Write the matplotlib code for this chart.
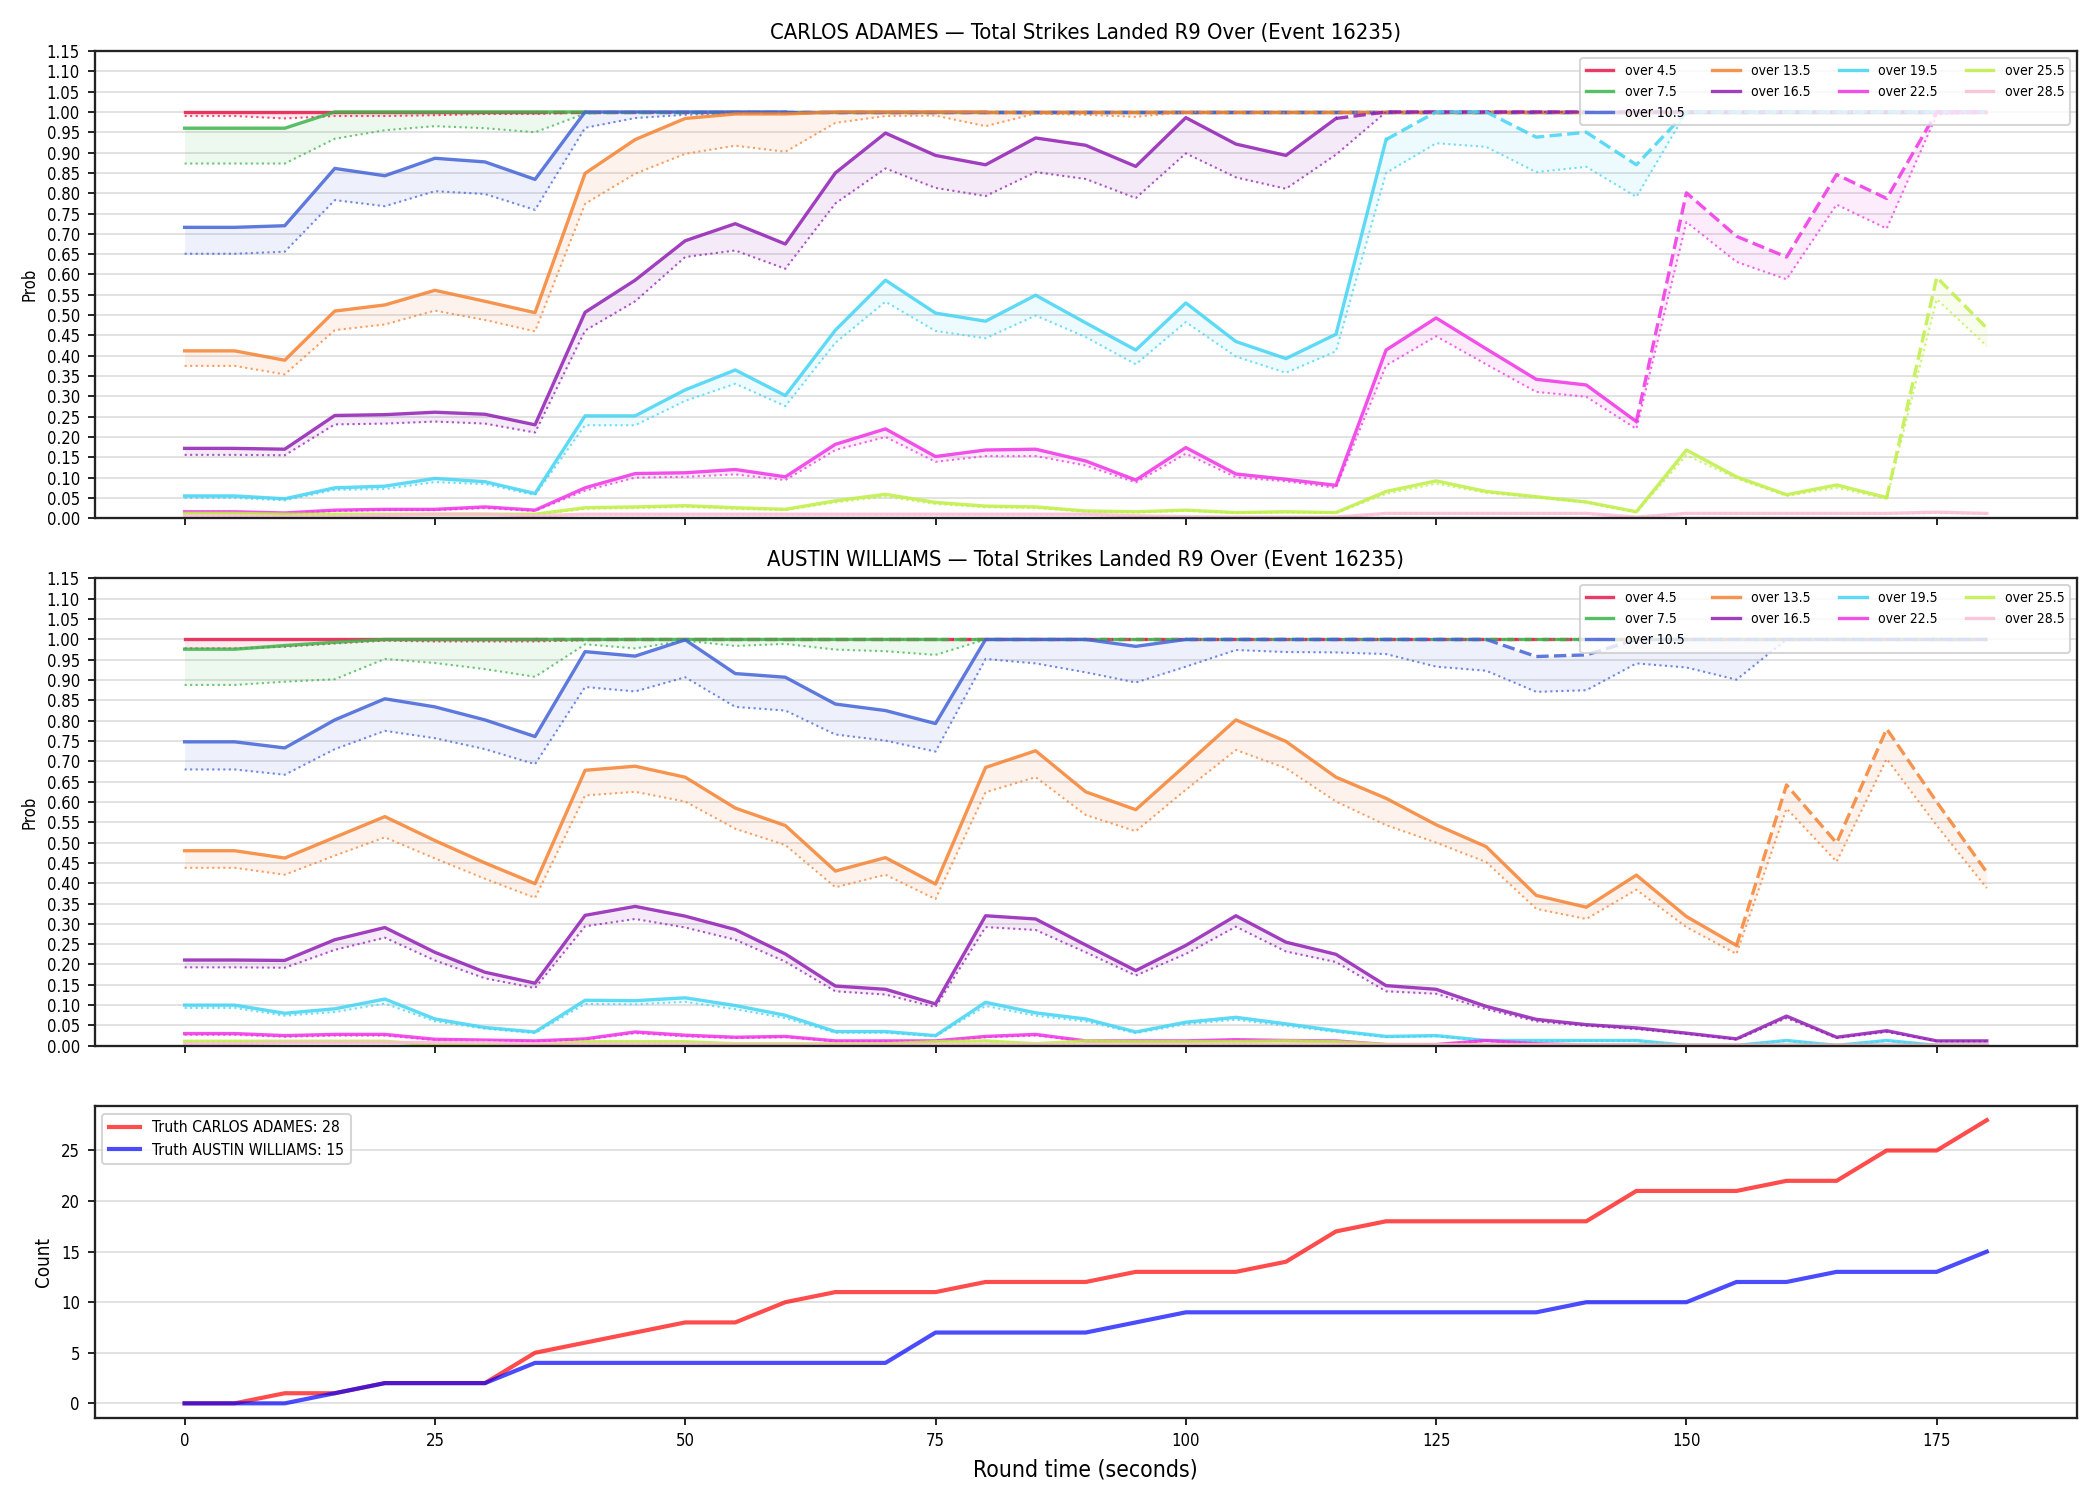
import numpy as np
import matplotlib
matplotlib.use("Agg")
import matplotlib.pyplot as plt

plt.rcParams['font.family'] = ['DejaVu Sans']
plt.rcParams['font.stretch'] = 'condensed'

# round time (s)
t = np.array(list(range(0, 185, 5)))

thresholds = [4.5, 7.5, 10.5, 13.5, 16.5, 19.5, 22.5, 25.5, 28.5]
colors = ['#e6194B', '#3cb44b', '#4363d8', '#f58231', '#911eb4',
          '#42d4f4', '#f032e6', '#bfef45', '#fabed4']

fighter_a = "CARLOS ADAMES"
fighter_b = "AUSTIN WILLIAMS"
event_id = 16235

"""truth counts"""
truth_a = [0, 0, 1, 1, 2, 2, 2, 5, 6, 7, 8, 8, 10, 11, 11, 11, 12, 12, 12, 13, 13, 13, 14, 17, 18,
           18, 18, 18, 18, 21, 21, 21, 22, 22, 25, 25, 28]
truth_b = [0, 0, 0, 1, 2, 2, 2, 4, 4, 4, 4, 4, 4, 4, 4, 7, 7, 7, 7, 8, 9, 9, 9, 9, 9,
           9, 9, 9, 10, 10, 10, 12, 12, 13, 13, 13, 15]

"""CARLOS ADAMES probs (main line) and lower dotted line"""
a_p45 = [1.0]*37
a_lo45 = [0.99, 0.99, 0.984, 0.99, 0.99, 0.992, 0.995, 0.995, 0.998] + [1.0]*28
a_p75 = [0.96, 0.96, 0.96] + [1.0]*34
a_lo75 = [0.873, 0.873, 0.873, 0.934, 0.955, 0.965, 0.96, 0.95, 0.996] + [1.0]*28
a_p105 = [0.716, 0.716, 0.72, 0.861, 0.843, 0.886, 0.877, 0.834] + [1.0]*29
a_lo105 = [0.651, 0.651, 0.656, 0.783, 0.768, 0.805, 0.798, 0.759, 0.961, 0.985, 0.993, 0.997] + [1.0]*25
a_p135 = [0.412, 0.412, 0.389, 0.51, 0.525, 0.561, 0.534, 0.506, 0.849, 0.932, 0.984, 0.995, 0.995] + [1.0]*24
a_lo135 = [0.375, 0.375, 0.354, 0.463, 0.477, 0.511, 0.488, 0.46, 0.774, 0.848, 0.897, 0.917, 0.902,
           0.973, 0.99, 0.991, 0.965, 0.996, 0.993, 0.988, 1.0, 0.998, 0.998, 0.998] + [1.0]*13
a_p165 = [0.172, 0.172, 0.17, 0.253, 0.255, 0.261, 0.256, 0.23, 0.507, 0.586, 0.683, 0.725, 0.675,
          0.85, 0.948, 0.893, 0.87, 0.936, 0.918, 0.866, 0.986, 0.921, 0.893, 0.984] + [1.0]*13
a_lo165 = [0.156, 0.156, 0.155, 0.231, 0.233, 0.238, 0.233, 0.211, 0.462, 0.534, 0.643, 0.659, 0.614,
           0.775, 0.861, 0.813, 0.793, 0.852, 0.835, 0.788, 0.898, 0.839, 0.811, 0.895] + [1.0]*13
a_p195 = [0.055, 0.055, 0.048, 0.075, 0.079, 0.098, 0.09, 0.061, 0.252, 0.252, 0.316, 0.365, 0.302,
          0.463, 0.586, 0.505, 0.485, 0.549, 0.481, 0.414, 0.53, 0.435, 0.393, 0.453, 0.932,
          1.0, 1.0, 0.938, 0.95, 0.87] + [1.0]*7
a_lo195 = [0.05, 0.05, 0.044, 0.07, 0.072, 0.089, 0.084, 0.057, 0.229, 0.229, 0.289, 0.331, 0.276,
           0.432, 0.533, 0.461, 0.443, 0.499, 0.446, 0.379, 0.483, 0.398, 0.358, 0.411, 0.85,
           0.923, 0.914, 0.852, 0.865, 0.791] + [1.0]*7
a_p225 = [0.016, 0.016, 0.013, 0.02, 0.022, 0.022, 0.028, 0.02, 0.075, 0.11, 0.112, 0.12, 0.102,
          0.182, 0.22, 0.152, 0.168, 0.17, 0.141, 0.094, 0.174, 0.109, 0.096, 0.081, 0.414,
          0.493, 0.417, 0.342, 0.328, 0.238, 0.801, 0.694, 0.643, 0.846, 0.787, 1.0, 1.0]
a_lo225 = [0.014, 0.014, 0.011, 0.018, 0.02, 0.02, 0.025, 0.018, 0.068, 0.1, 0.102, 0.108, 0.094,
           0.168, 0.2, 0.139, 0.153, 0.153, 0.13, 0.088, 0.159, 0.101, 0.091, 0.075, 0.376,
           0.448, 0.379, 0.311, 0.299, 0.22, 0.729, 0.631, 0.588, 0.772, 0.713, 0.993, 1.0]
a_p255 = [0.012, 0.012, 0.01, 0.01, 0.01, 0.01, 0.01, 0.01, 0.026, 0.028, 0.031, 0.026, 0.022,
          0.043, 0.059, 0.039, 0.03, 0.028, 0.018, 0.016, 0.02, 0.014, 0.016, 0.014, 0.066,
          0.092, 0.066, 0.053, 0.04, 0.016, 0.168, 0.102, 0.058, 0.082, 0.051, 0.593, 0.468]
a_lo255 = [0.011, 0.011, 0.009, 0.009, 0.009, 0.009, 0.009, 0.009, 0.023, 0.025, 0.028, 0.023, 0.02,
           0.039, 0.053, 0.035, 0.027, 0.025, 0.016, 0.014, 0.018, 0.013, 0.014, 0.013, 0.06,
           0.085, 0.063, 0.051, 0.039, 0.014, 0.155, 0.098, 0.055, 0.075, 0.048, 0.539, 0.424]
a_p285 = [0.006, 0.006, 0.004, 0.004, 0.008, 0.01, 0.01, 0.006, 0.01, 0.01, 0.01, 0.01, 0.01,
          0.01, 0.01, 0.01, 0.01, 0.01, 0.01, 0.006, 0.004, 0.003, 0.003, 0.003, 0.012,
          0.012, 0.012, 0.012, 0.012, 0.003, 0.012, 0.012, 0.012, 0.012, 0.012, 0.015, 0.012]
a_lo285 = [0.005, 0.005, 0.003, 0.003, 0.007, 0.009, 0.009, 0.005, 0.009, 0.009, 0.009, 0.009, 0.009,
           0.009, 0.009, 0.009, 0.009, 0.009, 0.009, 0.005, 0.003, 0.002, 0.002, 0.002, 0.011,
           0.011, 0.011, 0.011, 0.011, 0.002, 0.011, 0.011, 0.011, 0.011, 0.011, 0.013, 0.011]

"""AUSTIN WILLIAMS probs"""
b_p45 = [1.0]*37
b_lo45 = [0.978, 0.978, 0.982, 0.99, 0.997, 0.995, 0.995, 0.995, 0.998] + [1.0]*28
b_p75 = [0.976, 0.976, 0.985, 0.993] + [1.0]*33
b_lo75 = [0.888, 0.888, 0.896, 0.902, 0.952, 0.942, 0.927, 0.908, 0.988, 0.978, 0.997,
          0.984, 0.989, 0.975, 0.971, 0.962] + [1.0]*21
b_p105 = [0.748, 0.748, 0.733, 0.802, 0.854, 0.834, 0.802, 0.761, 0.97, 0.959, 0.999,
          0.916, 0.907, 0.841, 0.825, 0.793, 1.0, 1.0, 1.0, 0.983] + [1.0]*7 + [0.958, 0.962] + [1.0]*8
b_lo105 = [0.68, 0.68, 0.667, 0.73, 0.775, 0.757, 0.73, 0.693, 0.883, 0.872, 0.907,
           0.834, 0.825, 0.766, 0.751, 0.724, 0.952, 0.941, 0.919, 0.894, 0.933, 0.974, 0.969, 0.968, 0.964,
           0.933, 0.923, 0.871, 0.875, 0.941, 0.931, 0.901, 1.0, 1.0, 1.0, 1.0, 1.0]
b_p135 = [0.48, 0.48, 0.462, 0.513, 0.564, 0.505, 0.45, 0.399, 0.678, 0.688, 0.661,
          0.585, 0.542, 0.43, 0.463, 0.398, 0.685, 0.726, 0.625, 0.581, 0.691, 0.802, 0.749, 0.661, 0.609,
          0.544, 0.49, 0.37, 0.341, 0.42, 0.318, 0.247, 0.642, 0.499, 0.78, 0.6, 0.427]
b_lo135 = [0.438, 0.438, 0.421, 0.468, 0.513, 0.461, 0.411, 0.364, 0.616, 0.625, 0.601,
           0.534, 0.494, 0.39, 0.421, 0.361, 0.624, 0.661, 0.568, 0.528, 0.63, 0.728, 0.683, 0.601, 0.543,
           0.5, 0.452, 0.337, 0.312, 0.384, 0.292, 0.226, 0.584, 0.453, 0.706, 0.542, 0.388]
b_p165 = [0.211, 0.211, 0.21, 0.261, 0.291, 0.23, 0.181, 0.154, 0.321, 0.343, 0.319,
          0.286, 0.226, 0.147, 0.139, 0.103, 0.32, 0.312, 0.248, 0.185, 0.247, 0.32, 0.255, 0.225, 0.148,
          0.139, 0.097, 0.065, 0.052, 0.044, 0.031, 0.017, 0.073, 0.021, 0.037, 0.012, 0.012]
b_lo165 = [0.193, 0.193, 0.192, 0.236, 0.266, 0.21, 0.166, 0.142, 0.294, 0.312, 0.291,
           0.261, 0.207, 0.134, 0.126, 0.095, 0.292, 0.285, 0.23, 0.173, 0.226, 0.293, 0.232, 0.206, 0.134,
           0.128, 0.09, 0.06, 0.049, 0.041, 0.029, 0.015, 0.068, 0.019, 0.034, 0.011, 0.011]
b_p195 = [0.1, 0.1, 0.08, 0.091, 0.115, 0.066, 0.045, 0.034, 0.112, 0.111, 0.118,
          0.099, 0.075, 0.035, 0.035, 0.025, 0.107, 0.081, 0.066, 0.034, 0.058, 0.07, 0.054, 0.037, 0.023,
          0.025, 0.013, 0.013, 0.013, 0.013, 0.001, 0.001, 0.013, 0.001, 0.013, 0.001, 0.001]
b_lo195 = [0.093, 0.093, 0.074, 0.083, 0.104, 0.06, 0.042, 0.031, 0.103, 0.102, 0.108,
           0.09, 0.068, 0.032, 0.032, 0.023, 0.098, 0.074, 0.06, 0.031, 0.053, 0.064, 0.049, 0.034, 0.021,
           0.023, 0.012, 0.012, 0.012, 0.012, 0.001, 0.001, 0.012, 0.001, 0.012, 0.001, 0.001]
b_p225 = [0.03, 0.03, 0.025, 0.028, 0.028, 0.016, 0.014, 0.012, 0.017, 0.034, 0.026,
          0.021, 0.023, 0.012, 0.012, 0.012, 0.023, 0.028, 0.012, 0.012, 0.012, 0.015, 0.013, 0.012, 0.003,
          0.003, 0.013, 0.005, 0.002, 0.002, 0.001, 0.001, 0.001, 0.001, 0.001, 0.001, 0.001]
b_lo225 = [0.027, 0.027, 0.022, 0.025, 0.025, 0.014, 0.012, 0.011, 0.015, 0.031, 0.023,
           0.019, 0.021, 0.011, 0.011, 0.011, 0.021, 0.025, 0.011, 0.011, 0.011, 0.013, 0.012, 0.011, 0.002,
           0.002, 0.012, 0.004, 0.001, 0.001, 0.0, 0.0, 0.0, 0.0, 0.0, 0.0, 0.0]
b_p255 = [0.011, 0.011, 0.011, 0.011, 0.011, 0.002, 0.002, 0.002, 0.01, 0.01, 0.01,
          0.005, 0.005, 0.005, 0.005, 0.01, 0.012, 0.005, 0.012, 0.01, 0.01, 0.01, 0.012, 0.01, 0.003,
          0.002, 0.002, 0.002, 0.002, 0.002, 0.001, 0.001, 0.001, 0.001, 0.001, 0.001, 0.001]
b_lo255 = [0.01, 0.01, 0.01, 0.01, 0.01, 0.001, 0.001, 0.001, 0.009, 0.009, 0.009,
           0.004, 0.004, 0.004, 0.004, 0.009, 0.011, 0.004, 0.011, 0.009, 0.009, 0.009, 0.011, 0.009, 0.002,
           0.001, 0.001, 0.001, 0.001, 0.001, 0.0, 0.0, 0.0, 0.0, 0.0, 0.0, 0.0]
b_p285 = [0.005, 0.005, 0.008, 0.008, 0.008, 0.008, 0.008, 0.004, 0.004, 0.004, 0.004,
          0.003, 0.003, 0.003, 0.003, 0.003, 0.003, 0.003, 0.003, 0.003, 0.003, 0.003, 0.003, 0.003, 0.002,
          0.002, 0.002, 0.002, 0.002, 0.002, 0.001, 0.001, 0.001, 0.001, 0.001, 0.001, 0.001]
b_lo285 = [0.004, 0.004, 0.007, 0.007, 0.007, 0.007, 0.007, 0.003, 0.003, 0.003, 0.003,
           0.002, 0.002, 0.002, 0.002, 0.002, 0.002, 0.002, 0.002, 0.002, 0.002, 0.002, 0.002, 0.002, 0.001,
           0.001, 0.001, 0.001, 0.001, 0.001, 0.0, 0.0, 0.0, 0.0, 0.0, 0.0, 0.0]

a_main = [a_p45, a_p75, a_p105, a_p135, a_p165, a_p195, a_p225, a_p255, a_p285]
a_low = [a_lo45, a_lo75, a_lo105, a_lo135, a_lo165, a_lo195, a_lo225, a_lo255, a_lo285]
b_main = [b_p45, b_p75, b_p105, b_p135, b_p165, b_p195, b_p225, b_p255, b_p285]
b_low = [b_lo45, b_lo75, b_lo105, b_lo135, b_lo165, b_lo195, b_lo225, b_lo255, b_lo285]


def prob_panel(ax, mains, lows, truth, name):
    truth = np.array(truth)
    for thr, col, pv, lv in zip(thresholds, colors, mains, lows):
        pv = np.array(pv)
        lv = np.array(lv)
        ax.fill_between(t, lv, pv, color=col, alpha=0.09, lw=0)
        ax.plot(t, lv, ls=':', color=col, lw=1.0, alpha=0.75)
        # dashed once the fighter is within one strike of the line
        hit = np.where(truth >= thr - 1.5)[0]
        k = hit[0] if len(hit) else len(t) - 1
        ax.plot(t[:k+1], pv[:k+1], '-', color=col, lw=1.6, alpha=0.85, label='over %s' % thr)
        if k < len(t) - 1:
            ax.plot(t[k:], pv[k:], '--', color=col, lw=1.6, alpha=0.85)
    ax.set_ylim(0, 1.15)
    ax.set_yticks(np.arange(0, 1.1501, 0.05))
    ax.yaxis.set_major_formatter(matplotlib.ticker.FormatStrFormatter('%.2f'))
    ax.set_ylabel('Prob', fontsize=8)
    ax.set_title('%s \u2014 Total Strikes Landed R9 Over (Event %d)' % (name, event_id), fontsize=10.5)
    ax.grid(axis='y', color='#dddddd', lw=0.8)
    ax.set_axisbelow(True)
    ax.legend(loc='upper right', ncol=4, fontsize=6.7, framealpha=0.8)
    ax.tick_params(labelsize=8)


fig = plt.figure(figsize=(14, 10), dpi=150)
gs = fig.add_gridspec(3, 1, height_ratios=[3, 3, 2], left=0.045, right=0.989,
                      bottom=0.055, top=0.966, hspace=0.145)
ax1 = fig.add_subplot(gs[0])
ax2 = fig.add_subplot(gs[1], sharex=ax1)
ax3 = fig.add_subplot(gs[2], sharex=ax1)

prob_panel(ax1, a_main, a_low, truth_a, fighter_a)
prob_panel(ax2, b_main, b_low, truth_b, fighter_b)
plt.setp(ax1.get_xticklabels(), visible=False)
plt.setp(ax2.get_xticklabels(), visible=False)

ax3.plot(t, truth_a, color='red', lw=2, alpha=0.7, label='Truth %s: %d' % (fighter_a, truth_a[-1]))
ax3.plot(t, truth_b, color='blue', lw=2, alpha=0.7, label='Truth %s: %d' % (fighter_b, truth_b[-1]))
ax3.set_ylabel('Count', fontsize=9)
ax3.set_xlabel('Round time (seconds)', fontsize=11)
ax3.grid(axis='y', color='#dddddd', lw=0.8)
ax3.set_axisbelow(True)
ax3.legend(loc='upper left', fontsize=7.5)
ax3.tick_params(labelsize=8)

for ax in (ax1, ax2, ax3):
    for s in ax.spines.values():
        s.set_linewidth(1.1)
        s.set_color('#222222')

fig.savefig('out.png', dpi=150)
